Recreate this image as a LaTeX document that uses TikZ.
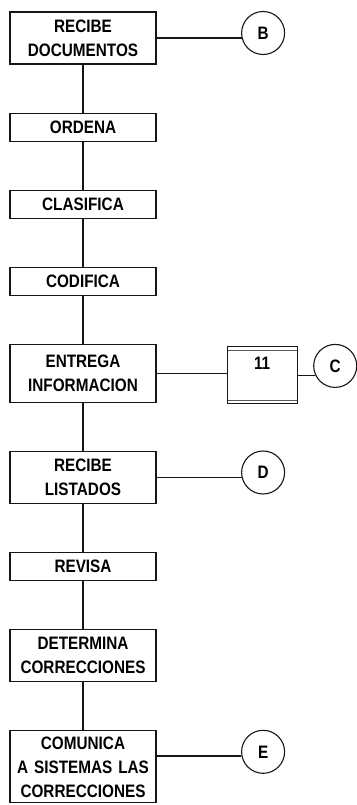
\documentclass[tikz,border=0pt]{standalone}
\usepackage{fontspec}
\setmainfont{Liberation Sans}[FakeStretch=0.85]
\usepackage{tikz}
\usetikzlibrary{positioning}
\definecolor{tinta}{HTML}{161616}
\definecolor{gris}{HTML}{5A5A5A}
\tikzset{
  pasob/.style={draw=tinta, line width=1.1pt, text width=140pt,
                minimum width=146pt, inner sep=3pt, align=center,
                font=\bfseries\fontsize{18}{24}\selectfont},
  uno/.style={pasob, minimum height=28pt},
  dos/.style={pasob, minimum height=52pt},
  tres/.style={pasob, minimum height=72pt},
  conb/.style={circle, draw=tinta, line width=1.1pt, minimum size=43pt,
               inner sep=0pt, font=\bfseries\fontsize{18}{24}\selectfont},
  % archivo con doble raya arriba y abajo
  archb/.style={draw=tinta, line width=1.1pt, minimum width=70pt,
                minimum height=57pt, inner sep=3pt, align=center,
                font=\bfseries\fontsize{18}{24}\selectfont,
                path picture={
                  \draw[gris, line width=1pt]
                    ([yshift=-3.5pt]path picture bounding box.north west) --
                    ([yshift=-3.5pt]path picture bounding box.north east)
                    ([yshift=3.5pt]path picture bounding box.south west) --
                    ([yshift=3.5pt]path picture bounding box.south east);}},
  ln/.style={draw=tinta, line width=1.1pt},
}
\begin{document}
\begin{tikzpicture}[node distance=48pt]
  \useasboundingbox (0pt,0pt) rectangle (356pt,-805pt);
  % --- columna principal ---
  \node[dos] (rdoc) at (83pt,-38pt) {RECIBE\\DOCUMENTOS};
  \node[uno, below=of rdoc] (ord) {ORDENA};
  \node[uno, below=of ord] (cla) {CLASIFICA};
  \node[uno, below=of cla] (cod) {CODIFICA};
  \node[dos, minimum height=58pt, below=of cod] (ent) {ENTREGA\\INFORMACION};
  \node[dos, below=of ent] (rlis) {RECIBE\\LISTADOS};
  \node[uno, below=of rlis] (rev) {REVISA};
  \node[dos, below=of rev] (det) {DETERMINA\\CORRECCIONES};
  \node[tres, below=of det] (com) {COMUNICA\\A SISTEMAS LAS\\CORRECCIONES};

  % --- conectores ---
  \node[conb, right=84.5pt of rdoc, yshift=5pt] (cB) {B};
  \node[archb, right=70pt of ent, yshift=-2pt] (arch) {11\\\mbox{}};
  \node[conb, right=15.5pt of arch, yshift=9.5pt] (cC) {C};
  \node[conb, right=84.5pt of rlis, yshift=5pt] (cD) {D};
  \node[conb, right=84.5pt of com, yshift=15pt] (cE) {E};

  \foreach \a/\b in {rdoc/ord, ord/cla, cla/cod, cod/ent, ent/rlis,
                     rlis/rev, rev/det, det/com}
    \draw[ln] (\a.south) -- (\b.north);
  \draw[ln] (rdoc.east) -- (rdoc.east -| cB.193);
  \draw[ln] (ent.east) -- (ent.east -| arch.west);
  \draw[ln] (arch.east) -- (arch.east -| cC.206);
  \draw[ln] (rlis.east) -- (rlis.east -| cD.193);
  \draw[ln] (com.east |- cE.191) -- (cE.191);
\end{tikzpicture}
\end{document}
